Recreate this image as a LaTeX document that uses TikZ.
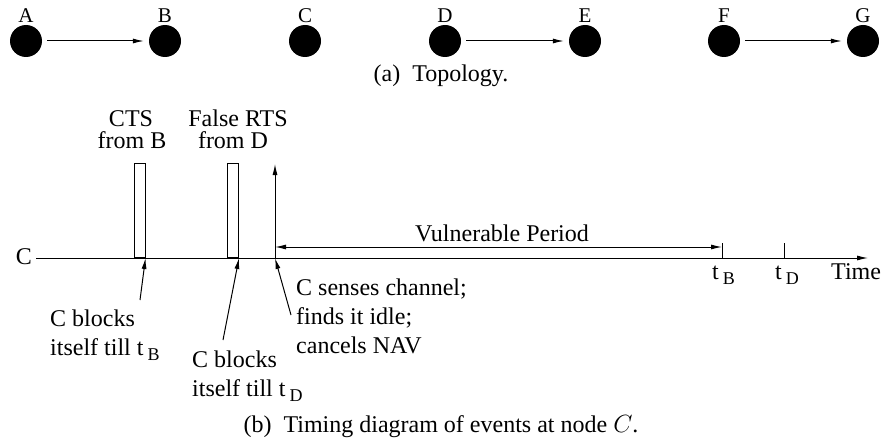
\documentclass[tikz,border=0pt]{standalone}
\usepackage{fontspec}
\setmainfont{Liberation Serif}
\usetikzlibrary{arrows.meta}
\begin{document}
\begin{tikzpicture}[x=1pt,y=-1pt,
  dot/.style={circle,fill=black,inner sep=0pt,minimum size=32pt},
  lab/.style={inner sep=0pt,font=\fontsize{21}{21}\selectfont},
  txt/.style={inner sep=0pt,font=\fontsize{24}{29}\selectfont,align=left},
  ttl/.style={inner sep=0pt,font=\fontsize{24}{20}\selectfont},
  pulse/.style={draw,line width=1pt,minimum width=11pt,minimum height=94pt,inner sep=0pt,anchor=south},
  ln/.style={line width=1pt},
  arr/.style={ln,-{Latex[length=11pt,width=5pt]}},
  darr/.style={ln,{Latex[length=11pt,width=5pt]}-{Latex[length=11pt,width=5pt]}}
]
\useasboundingbox (0,0) rectangle (883,441);
\newcommand{\sbt}[1]{t\,\raisebox{-5pt}{\fontsize{18}{18}\selectfont #1}}
% topology
\node[dot] (a) at (26,41) {};
\node[dot] (b) at (165,41) {};
\node[dot] (c) at (305,41) {};
\node[dot] (d) at (445,41) {};
\node[dot] (e) at (585,41) {};
\node[dot] (f) at (724,41) {};
\node[dot] (g) at (863,41) {};
\foreach \n/\L in {a/A,b/B,c/C,d/D,e/E,f/F,g/G}
  \node[lab,anchor=base] at ([yshift=2pt]\n.north) {\L};
\draw[arr,shorten <=5pt,shorten >=5pt] (a) -- (b);
\draw[arr,shorten <=5pt,shorten >=5pt] (d) -- (e);
\draw[arr,shorten <=5pt,shorten >=5pt] (f) -- (g);
\node[txt,anchor=base] (capa) at (441,82) {(a)\ \ Topology.};
% timing
\coordinate (t0) at (36,258);
\coordinate (t1) at (868,258);
\node[txt,anchor=base east] (clab) at (32,264) {C};
\draw[arr] (t0) -- (t1);
\node[txt,anchor=base west] (time) at (831,279) {Time};
\node[pulse] (cts) at (139.5,258) {};
\node[pulse] (rts) at (233,258) {};
\node[ttl,anchor=base] (ctstxt1) at (131,127) {CTS};
\node[ttl,anchor=base] (ctstxt2) at (132,149) {from B};
\node[ttl,anchor=base] (rtstxt1) at (238,127) {False RTS};
\node[ttl,anchor=base] (rtstxt2) at (233,149) {from D};
\coordinate (s0) at (275,258);
\coordinate (s1) at (275,164);
\draw[arr] (s0) -- (s1);
\coordinate (v0) at (275,247);
\coordinate (v1) at (722,247);
\draw[darr] (v0) -- (v1);
\node[txt,anchor=base] (vp) at (502,241) {Vulnerable Period};
\coordinate (tb0) at (722,243);
\coordinate (tb1) at (722,258);
\coordinate (td0) at (784,243);
\coordinate (td1) at (784,258);
\draw[ln] (tb0) -- (tb1);
\draw[ln] (td0) -- (td1);
\node[txt,anchor=base west] (tb) at (712,279) {\sbt{B}};
\node[txt,anchor=base west] (td) at (775,279) {\sbt{D}};
% annotations
\node[txt,anchor=north west] (n1) at (50,310) {C blocks\\itself till \sbt{B}};
\node[txt,anchor=north west] (n2) at (192,351) {C blocks\\itself till \sbt{D}};
\node[txt,anchor=north west] (n3) at (296,279) {C senses channel;\\finds it idle;\\cancels NAV};
\coordinate (p1) at (140,300);
\coordinate (p2) at (223,340);
\coordinate (p3) at (291,315);
\draw[arr] (p1) -- (cts.south east);
\draw[arr] (p2) -- (rts.south east);
\draw[arr] (p3) -- (s0);
\node[txt,anchor=base] (capb) at (441,432) {(b)\ \ Timing diagram of events at node $C$.};
\end{tikzpicture}
\end{document}
